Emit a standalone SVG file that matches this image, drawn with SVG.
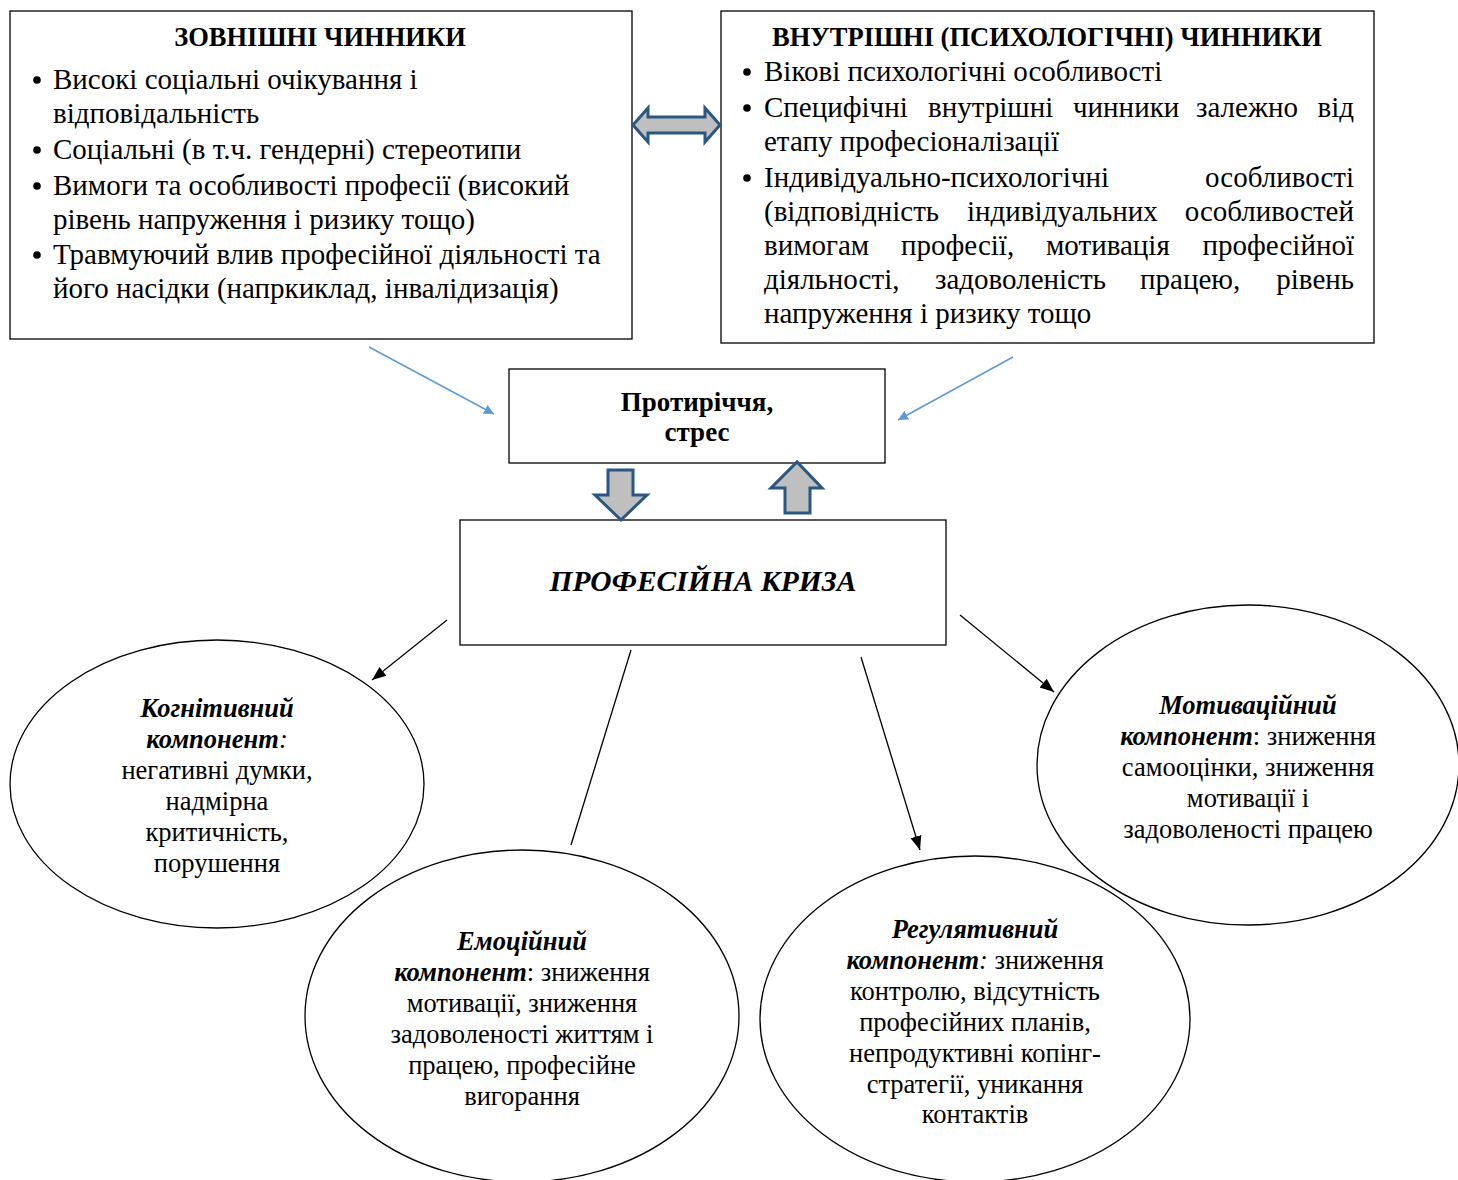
<svg xmlns="http://www.w3.org/2000/svg" width="1458" height="1180" viewBox="0 0 1458 1180">
<style>
text{font-family:"Liberation Serif","Times New Roman",serif;fill:#000}
.box{fill:#fff;stroke:#000;stroke-width:1.3}
.ell{fill:#fff;stroke:#000;stroke-width:1.3}
.t{font-size:29px}
.dot{fill:#000}
.h{font-size:26.5px;font-weight:bold;text-anchor:middle}
.e{font-size:26.5px;text-anchor:middle}
.bi{font-weight:bold;font-style:italic}
.blk{fill:#bfbfbf;stroke:#2a5783;stroke-width:3;stroke-linejoin:miter}
.blue{stroke:#5b9bd5;stroke-width:1.5;fill:none}
.con{stroke:#000;stroke-width:1.3;fill:none}
</style>
<defs>
<marker id="ab" viewBox="0 0 10 10" refX="10" refY="5" markerWidth="10" markerHeight="10" markerUnits="userSpaceOnUse" orient="auto"><path d="M0,0 L10,5 L0,10 z" fill="#5b9bd5"/></marker>
<marker id="ak" viewBox="0 0 10 10" refX="10" refY="5" markerWidth="14" markerHeight="14" markerUnits="userSpaceOnUse" orient="auto"><path d="M0,1 L10,5 L0,9 z" fill="#000"/></marker>
</defs>

<g id="external">
<rect class="box" x="10" y="11" width="622" height="328"/>
<text class="h" x="320" y="46">ЗОВНІШНІ ЧИННИКИ</text>
<circle class="dot" cx="37" cy="80" r="3.8"/>
<text class="t" x="53" y="89">Високі соціальні очікування і</text>
<text class="t" x="53" y="123">відповідальність</text>
<circle class="dot" cx="37" cy="150" r="3.8"/>
<text class="t" x="53" y="159">Соціальні (в т.ч. гендерні) стереотипи</text>
<circle class="dot" cx="37" cy="186" r="3.8"/>
<text class="t" x="53" y="195">Вимоги та особливості професії (високий</text>
<text class="t" x="53" y="229">рівень напруження і ризику тощо)</text>
<circle class="dot" cx="37" cy="255" r="3.8"/>
<text class="t" x="53" y="264">Травмуючий влив професійної діяльності та</text>
<text class="t" x="53" y="298">його насідки (напркиклад, інвалідизація)</text>
</g>

<g id="internal">
<rect class="box" x="721" y="11" width="653" height="332"/>
<text class="h" x="1047" y="46">ВНУТРІШНІ (ПСИХОЛОГІЧНІ) ЧИННИКИ</text>
<circle class="dot" cx="747" cy="72" r="3.8"/>
<text class="t" x="764" y="81">Вікові психологічні особливості</text>
<circle class="dot" cx="747" cy="108" r="3.8"/>
<text class="t" x="764" y="117">Специфічні</text>
<text class="t" x="928" y="117">внутрішні</text>
<text class="t" x="1073" y="117">чинники</text>
<text class="t" x="1196" y="117">залежно</text>
<text class="t" x="1354" y="117" text-anchor="end">від</text>
<text class="t" x="764" y="151">етапу професіоналізації</text>
<circle class="dot" cx="747" cy="178" r="3.8"/>
<text class="t" x="764" y="187">Індивідуально-психологічні</text>
<text class="t" x="1354" y="187" text-anchor="end">особливості</text>
<text class="t" x="764" y="221">(відповідність</text>
<text class="t" x="967" y="221">індивідуальних</text>
<text class="t" x="1354" y="221" text-anchor="end">особливостей</text>
<text class="t" x="764" y="255">вимогам</text>
<text class="t" x="901" y="255">професії,</text>
<text class="t" x="1046" y="255">мотивація</text>
<text class="t" x="1354" y="255" text-anchor="end">професійної</text>
<text class="t" x="764" y="289">діяльності,</text>
<text class="t" x="935" y="289">задоволеність</text>
<text class="t" x="1140" y="289">працею,</text>
<text class="t" x="1354" y="289" text-anchor="end">рівень</text>
<text class="t" x="764" y="323">напруження і ризику тощо</text>
</g>

<g id="stress">
<rect class="box" x="509" y="369" width="376" height="94"/>
<text class="h" x="697" y="411" style="font-size:27px">Протиріччя,</text>
<text class="h" x="697" y="441" style="font-size:27px">стрес</text>
</g>

<g id="crisis">
<rect class="box" x="460" y="520" width="486" height="125"/>
<text class="h bi" x="703" y="591" style="font-size:29.5px">ПРОФЕСІЙНА КРИЗА</text>
</g>

<g id="cognitive">
<ellipse class="ell" cx="217" cy="784" rx="207" ry="144"/>
<text class="e" x="217" y="717"><tspan class="bi">Когнітивний</tspan></text>
<text class="e" x="217" y="748"><tspan class="bi">компонент</tspan><tspan font-style="italic">:</tspan></text>
<text class="e" x="217" y="779">негативні думки,</text>
<text class="e" x="217" y="810">надмірна</text>
<text class="e" x="217" y="841">критичність,</text>
<text class="e" x="217" y="872">порушення</text>
</g>

<g id="emotional">
<ellipse class="ell" cx="522" cy="1016" rx="217" ry="166"/>
<text class="e" x="522" y="950"><tspan class="bi">Емоційний</tspan></text>
<text class="e" x="522" y="981"><tspan class="bi">компонент</tspan>: зниження</text>
<text class="e" x="522" y="1012">мотивації, зниження</text>
<text class="e" x="522" y="1043">задоволеності життям і</text>
<text class="e" x="522" y="1074">працею, професійне</text>
<text class="e" x="522" y="1105">вигорання</text>
</g>

<g id="regulative">
<ellipse class="ell" cx="975" cy="1019" rx="215" ry="163"/>
<text class="e" x="975" y="938"><tspan class="bi">Регулятивний</tspan></text>
<text class="e" x="975" y="969"><tspan class="bi">компонент</tspan><tspan font-style="italic">:</tspan> зниження</text>
<text class="e" x="975" y="1000">контролю, відсутність</text>
<text class="e" x="975" y="1031">професійних планів,</text>
<text class="e" x="975" y="1062">непродуктивні копінг-</text>
<text class="e" x="975" y="1093">стратегії, уникання</text>
<text class="e" x="975" y="1123">контактів</text>
</g>

<g id="motivational">
<ellipse class="ell" cx="1248" cy="765" rx="211" ry="160"/>
<text class="e" x="1248" y="714"><tspan class="bi">Мотиваційний</tspan></text>
<text class="e" x="1248" y="745"><tspan class="bi">компонент</tspan>: зниження</text>
<text class="e" x="1248" y="776">самооцінки, зниження</text>
<text class="e" x="1248" y="807">мотивації і</text>
<text class="e" x="1248" y="838">задоволеності працею</text>
</g>

<g id="connectors">
<path class="blk" d="M633,125 L648,108 L648,117 L705,117 L705,108 L720,125 L705,142 L705,133 L648,133 L648,142 Z"/>
<path class="blk" d="M608,470 L633,470 L633,495 L647,495 L621,520 L595,495 L608,495 Z"/>
<path class="blk" d="M785,513 L810,513 L810,488 L822,488 L797,462 L771,488 L785,488 Z"/>
<line class="blue" x1="369" y1="347" x2="494" y2="414" marker-end="url(#ab)"/>
<line class="blue" x1="1013" y1="357" x2="898" y2="420" marker-end="url(#ab)"/>
<line class="con" x1="447" y1="620" x2="372" y2="680" marker-end="url(#ak)"/>
<line class="con" x1="960" y1="615" x2="1054" y2="692" marker-end="url(#ak)"/>
<line class="con" x1="861" y1="657" x2="920" y2="850" marker-end="url(#ak)"/>
<line class="con" x1="631" y1="650" x2="571" y2="845"/>
</g>
</svg>
